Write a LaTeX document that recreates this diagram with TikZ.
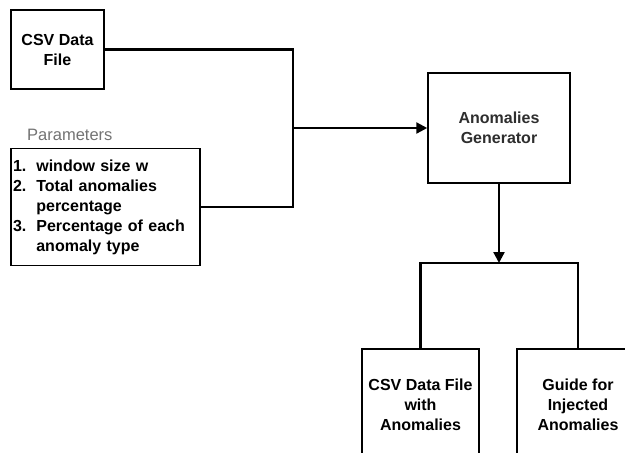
\documentclass[tikz,border=0pt]{standalone}
\usepackage{fontspec}
\setmainfont{Liberation Sans}
\usetikzlibrary{arrows.meta}
\begin{document}
\begin{tikzpicture}[x=1pt,y=-1pt,
  box/.style={draw,line width=1.5pt,rectangle,inner sep=0pt,align=center,
    font=\bfseries\fontsize{16}{20}\selectfont},
  wire/.style={line width=2.3pt},
  arrowwire/.style={wire,-{Triangle[length=11pt,width=11pt]}}]
\clip (0,0) rectangle (625,453);
\fill[white] (0,0) rectangle (625,453);

% inputs
\node[box,minimum width=93pt,minimum height=79pt] (csv) at (57.5,49.5) {CSV Data\\File};
\node[text=black!55,font=\fontsize{16.5}{19}\selectfont,anchor=west,inner sep=0pt] (plabel) at (27,135) {Parameters};
\node[box,minimum width=189pt,minimum height=117pt,text width=185pt,align=left] (params) at (105.5,207)
  {\raisebox{-3pt}{\begin{tabular}{@{}l@{\hspace{10pt}}l@{}}
   1. & window size w\\
   2. & Total anomalies\\
      & percentage\\
   3. & Percentage of each\\
      & anomaly type
   \end{tabular}}};

% generator
\node[box,minimum width=142pt,minimum height=110pt,text=black!82] (gen) at (499,128) {Anomalies\\Generator};

% outputs
\node[box,minimum width=117pt,minimum height=111pt] (out1) at (420.5,404.5) {CSV Data File\\with\\Anomalies};
\node[box,minimum width=122pt,minimum height=111pt] (out2) at (578,404.5) {Guide for\\Injected\\Anomalies};

% connectors
\coordinate (merge) at (293,128);
\coordinate (split) at (499,263);
\draw[wire] (csv.east) -| (merge);
\draw[wire] (params.east) -| (merge);
\draw[arrowwire] (merge) -- (gen.west);
\draw[arrowwire] (gen.south) -- (split);
\draw[wire] (out1.north) |- (split) -| (out2.north);
\end{tikzpicture}
\end{document}
